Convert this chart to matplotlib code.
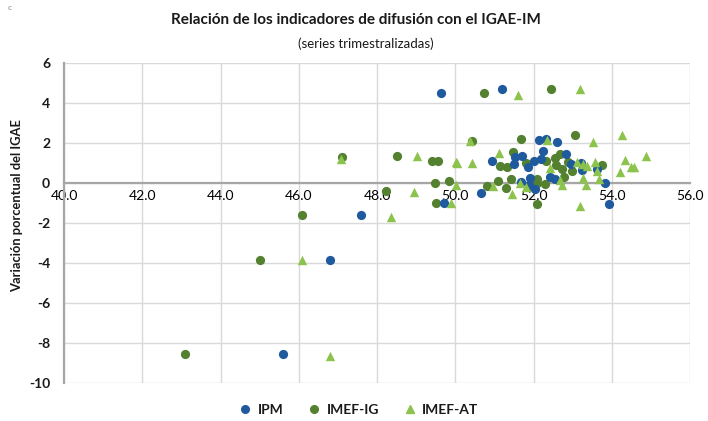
import matplotlib
matplotlib.use("Agg")
import matplotlib.pyplot as plt
from matplotlib.lines import Line2D

# ---- data ----
ipm_x = [49.63, 51.19, 47.60, 46.80, 45.59, 49.71, 50.65, 53.92, 53.82, 50.94,
         52.13, 52.31, 52.60, 52.25, 51.71, 51.52, 51.51, 51.87, 52.00, 52.18,
         52.82, 53.21, 53.25, 53.62, 51.92, 52.43, 52.54, 51.67, 51.89, 52.05,
         52.95]
ipm_y = [4.48, 4.70, -1.60, -3.85, -8.57, -1.00, -0.50, -1.07, -0.02, 1.10,
         2.13, 2.20, 2.07, 1.58, 1.37, 1.28, 0.95, 0.78, 1.10, 1.22,
         1.45, 1.02, 0.65, 0.68, 0.27, 0.32, 0.20, 0.03, -0.12, -0.32,
         0.95]

ig_x = [43.10, 45.02, 46.09, 48.24, 47.11, 48.50, 49.41, 49.56, 49.49, 49.83,
        49.52, 50.73, 52.46, 50.43, 51.68, 53.06, 51.48, 51.80, 51.15, 51.33,
        52.32, 52.54, 52.68, 52.88, 52.58, 52.72, 52.99, 53.74, 52.79, 51.43,
        51.08, 50.81, 51.29, 52.10, 52.09, 52.29, 52.10]
ig_y = [-8.57, -3.85, -1.62, -0.38, 1.30, 1.35, 1.08, 1.08, -0.02, 0.12,
        -0.98, 4.48, 4.68, 2.12, 2.18, 2.42, 1.57, 1.02, 0.87, 0.79,
        1.10, 1.23, 1.45, 1.03, 0.90, 0.68, 0.62, 0.88, 0.32, 0.18,
        0.12, -0.15, -0.23, 0.20, 0.02, -0.05, -1.07]

at_x = [47.07, 46.09, 46.79, 48.35, 49.02, 48.94, 50.03, 50.01, 49.88, 51.60,
        53.18, 50.38, 50.05, 50.44, 51.12, 52.34, 53.52, 54.27, 54.87, 54.35,
        54.50, 54.56, 54.20, 53.11, 53.36, 53.56, 53.26, 53.63, 52.43, 53.26,
        53.67, 53.35, 52.67, 52.74, 51.80, 51.44, 50.97, 51.66, 53.18]
at_y = [1.20, -3.85, -8.63, -1.68, 1.35, -0.43, 1.03, -0.10, -1.02, 4.40,
        4.68, 2.12, 1.02, 1.02, 1.52, 2.13, 2.07, 2.42, 1.35, 1.15,
        0.82, 0.82, 0.57, 1.03, 0.87, 1.03, 0.95, 0.62, 0.73, 0.23,
        0.18, -0.10, 0.15, -0.10, -0.18, -0.55, -0.15, 0.02, -1.15]

series_names = ["IPM", "IMEF-IG", "IMEF-AT"]
x_ticks = [40, 42, 44, 46, 48, 50, 52, 54, 56]
y_ticks = [6, 4, 2, 0, -2, -4, -6, -8, -10]

c_ipm = "#1f5a9e"
c_ig = "#53812f"
c_at = "#8cc34c"
grid_c = "#d9d9d9"
axis_c = "#a6a6a6"
txt_c = "#1a1a1a"

plt.rcParams['font.family'] = ['Lato', 'DejaVu Sans']

fig = plt.figure(figsize=(7.08, 4.21), dpi=100)
ax = fig.add_axes([64/708, 1-383/421, (690-64)/708, (383-63)/421])

ax.scatter(ig_x, ig_y, s=44, marker='o', color=c_ig, linewidths=0, zorder=3)
ax.scatter(ipm_x, ipm_y, s=44, marker='o', color=c_ipm, linewidths=0, zorder=3)
ax.scatter(at_x, at_y, s=46, marker='^', color=c_at, linewidths=0, zorder=3)

ax.set_xlim(40, 56)
ax.set_ylim(-10, 6)
ax.set_xticks(x_ticks)
ax.set_yticks(y_ticks)
ax.set_xticklabels([f"{v:.1f}" for v in x_ticks], fontsize=10, fontweight='bold', color=txt_c)
ax.set_yticklabels([str(v) for v in y_ticks], fontsize=10, fontweight='bold', color=txt_c)

ax.grid(True, color=grid_c, linewidth=1.0, zorder=0)
ax.set_axisbelow(True)
for s in ['top', 'right']:
    ax.spines[s].set_visible(False)
ax.spines['bottom'].set_position(('data', 0))
ax.spines['bottom'].set_color(axis_c)
ax.spines['bottom'].set_linewidth(1.6)
ax.spines['left'].set_color(axis_c)
ax.spines['left'].set_linewidth(1.6)
ax.tick_params(axis='both', length=0)
ax.tick_params(axis='y', pad=10)
ax.tick_params(axis='x', pad=5)

ax.set_ylabel("Variación porcentual del IGAE", fontsize=9.3, fontweight='bold',
              color=txt_c)
ax.yaxis.set_label_coords((23 - 64) / 626, (383 - 206) / 320)

fig.text(0.503, 1-20/421, "Relación de los indicadores de difusión con el IGAE-IM",
         ha='center', va='center', fontsize=11, fontweight='bold', color=txt_c)
fig.text(0.517, 1-44/421, "(series trimestralizadas)", ha='center', va='center',
         fontsize=9.5, color=txt_c)
fig.text(8/708, 1-8/421, "c", ha='left', va='center', fontsize=6, color='#888888')

handles = [
    Line2D([], [], marker='o', linestyle='none', color=c_ipm, markersize=5.5),
    Line2D([], [], marker='o', linestyle='none', color=c_ig, markersize=5.5),
    Line2D([], [], marker='^', linestyle='none', color=c_at, markersize=5.5),
]
leg = fig.legend(handles, series_names, loc='center', bbox_to_anchor=(0.505, 1-410/421),
                 ncol=3, frameon=False, handletextpad=0.3, columnspacing=1.6,
                 handlelength=1.2, prop={'size': 10, 'weight': 'bold'})
for t in leg.get_texts():
    t.set_color(txt_c)

fig.savefig("out.png", dpi=100)
